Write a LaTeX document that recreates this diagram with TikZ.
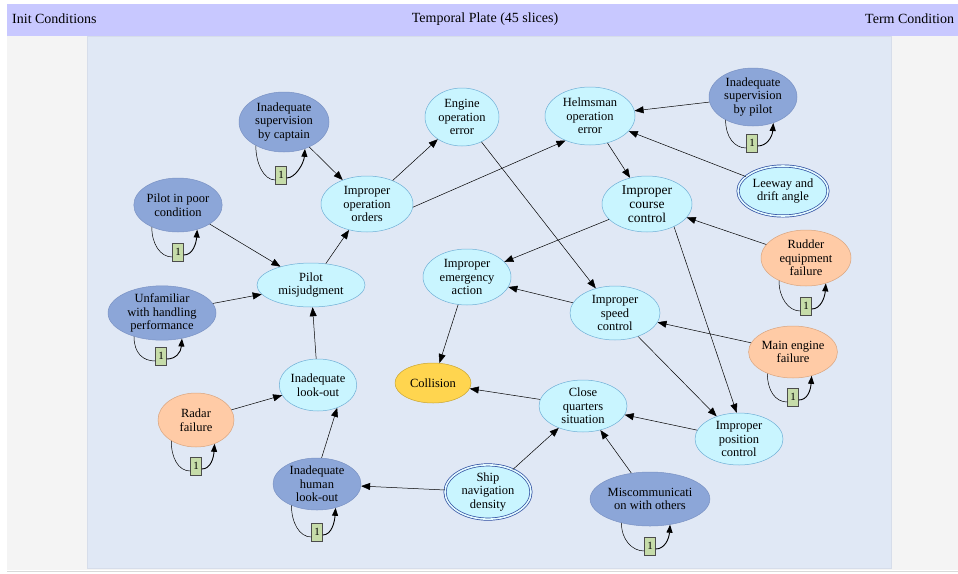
\documentclass[tikz,border=0pt]{standalone}
\usepackage{fontspec}
\setmainfont{Liberation Serif}
\usetikzlibrary{shapes.geometric,arrows.meta,calc}
\definecolor{hdr}{HTML}{C8C8FF}
\definecolor{bggray}{HTML}{F4F4F4}
\definecolor{panel}{HTML}{E0E8F5}
\definecolor{panelb}{HTML}{D6DDEA}
\definecolor{darkn}{HTML}{8CA6D8}
\definecolor{darknb}{HTML}{7A92C4}
\definecolor{cyann}{HTML}{C9F5FF}
\definecolor{cyanb}{HTML}{6FAFD6}
\definecolor{peach}{HTML}{FFCBA6}
\definecolor{peachb}{HTML}{D9A47E}
\definecolor{goldn}{HTML}{FFD54F}
\definecolor{goldb}{HTML}{C9A530}
\definecolor{boxg}{HTML}{C6DCA9}
\definecolor{dblb}{HTML}{2B4BA0}
\newcommand\selfloop[2]{%
  \draw[loopline] (#1.220) .. controls +(0,17) and +(-12,0) .. ($(#2.west)+(0,5)$);
  \draw[loopline, line width=0.9pt, -{Triangle[length=8pt,width=6pt]}] ($(#2.east)+(0,3)$) .. controls +(9,0) and +(-1,14) .. (#1.308);
}
\begin{document}
\begin{tikzpicture}[x=1pt,y=-1pt,
  every node/.style={font=\fontsize{12.5}{13.5}\selectfont, align=center, inner sep=0pt},
  ell/.style={ellipse, draw, line width=0.5pt},
  dk/.style={ell, fill=darkn, draw=darknb},
  cy/.style={ell, fill=cyann, draw=cyanb},
  pe/.style={ell, fill=peach, draw=peachb},
  go/.style={ell, fill=goldn, draw=goldb},
  dbl/.style={ellipse, fill=cyann, draw=dblb, line width=0.7pt, double=cyann!50!white, double distance=1.6pt},
  onebox/.style={rectangle, draw=gray!60!black, fill=boxg, line width=0.5pt, minimum width=11pt, minimum height=18pt, font=\fontsize{11}{12}\selectfont},
  loopline/.style={draw, line width=0.5pt},
  ar/.style={draw, line width=0.5pt, -{Triangle[length=9pt,width=7pt]}},
  hdrtext/.style={font=\fontsize{14}{16}\selectfont}
]
\useasboundingbox (0,0) rectangle (958,573);
\fill[white] (0,0) rectangle (958,573);
\fill[bggray] (7,36) rectangle (958,570);
\draw[gray!30, line width=0.8pt] (7,571) -- (958,571);
\filldraw[fill=panel, draw=panelb, line width=0.5pt] (87,36) rectangle (891,568);
\fill[hdr] (7,4) rectangle (958,36);
\node[hdrtext, anchor=west] (hl) at (12,19) {Init Conditions};
\node[hdrtext] (hc) at (485,19) {Temporal Plate (45 slices)};
\node[hdrtext, anchor=west] (hr) at (865,19) {Term Condition};

% nodes
\node[dk, minimum width=90pt, minimum height=60pt] (cap) at (284,122) {Inadequate\\supervision\\by captain};
\node[dk, minimum width=88pt, minimum height=58pt] (psup) at (753,97) {Inadequate\\supervision\\by pilot};
\node[cy, minimum width=74pt, minimum height=58pt] (eng) at (462,117) {Engine\\operation\\error};
\node[cy, minimum width=90pt, minimum height=58pt] (helm) at (590,116) {Helmsman\\operation\\error};
\node[cy, minimum width=92pt, minimum height=56pt] (ioo) at (367,204) {Improper\\operation\\orders};
\node[dk, minimum width=88pt, minimum height=54pt] (ppc) at (178,205) {Pilot in poor\\condition};
\node[dbl, minimum width=90pt, minimum height=50pt] (lee) at (783,191) {Leeway and\\drift angle};
\node[cy, minimum width=90pt, minimum height=56pt, font=\fontsize{13.5}{14}\selectfont] (icc) at (647,204) {Improper\\course\\control};
\node[pe, minimum width=90pt, minimum height=56pt] (rud) at (806,258) {Rudder\\equipment\\failure};
\node[cy, minimum width=88pt, minimum height=56pt] (iea) at (467,277) {Improper\\emergency\\action};
\node[cy, minimum width=108pt, minimum height=44pt] (pmj) at (311,285) {Pilot\\misjudgment};
\node[dk, minimum width=108pt, minimum height=52pt] (unf) at (162,313) {Unfamiliar\\with handling\\performance};
\node[cy, minimum width=90pt, minimum height=54pt] (isc) at (615,313) {Improper\\speed\\control};
\node[pe, minimum width=88pt, minimum height=52pt] (mef) at (793,352) {Main engine\\failure};
\node[go, minimum width=76pt, minimum height=40pt] (col) at (433,383) {Collision};
\node[cy, minimum width=74pt, minimum height=52pt] (ilo) at (318,385) {Inadequate\\look-out};
\node[cy, minimum width=88pt, minimum height=52pt] (cqs) at (583,406) {Close\\quarters\\situation};
\node[pe, minimum width=76pt, minimum height=54pt] (rad) at (196,420) {Radar\\failure};
\node[cy, minimum width=88pt, minimum height=52pt] (ipc) at (739,439) {Improper\\position\\control};
\node[dk, minimum width=88pt, minimum height=52pt] (ihl) at (317,484) {Inadequate\\human\\look-out};
\node[dbl, minimum width=86pt, minimum height=54pt] (snd) at (488,492) {Ship\\navigation\\density};
\node[dk, minimum width=118pt, minimum height=54pt] (mis) at (650,499) {Miscommunicati\\on with others};

% loop boxes
\node[onebox] (bcap) at (281,175) {1};
\node[onebox] (bpsup) at (752,143) {1};
\node[onebox] (bppc) at (178,252) {1};
\node[onebox] (bunf) at (161,356) {1};
\node[onebox] (brad) at (196,466) {1};
\node[onebox] (bihl) at (317,532) {1};
\node[onebox] (bmis) at (650,546) {1};
\node[onebox] (brud) at (806,306) {1};
\node[onebox] (bmef) at (793,397) {1};

\selfloop{cap}{bcap}
\selfloop{psup}{bpsup}
\selfloop{ppc}{bppc}
\selfloop{unf}{bunf}
\selfloop{rad}{brad}
\selfloop{ihl}{bihl}
\selfloop{mis}{bmis}
\selfloop{rud}{brud}
\selfloop{mef}{bmef}

% edges
\draw[ar] (cap) -- (ioo);
\draw[ar] (pmj) -- (ioo);
\draw[ar] (ioo) -- (eng);
\draw[ar] (ioo.-4) -- (helm.225);
\draw[ar] (psup) -- (helm);
\draw[ar] (lee) -- (helm);
\draw[ar] (helm) -- (icc);
\draw[ar] (eng) -- (isc);
\draw[ar] (icc) -- (iea);
\draw[ar] (icc.-40) -- (ipc.95);
\draw[ar] (rud) -- (icc);
\draw[ar] (ppc) -- (pmj);
\draw[ar] (unf) -- (pmj);
\draw[ar] (isc) -- (iea);
\draw[ar] (mef) -- (isc);
\draw[ar] (isc) -- (ipc);
\draw[ar] (iea) -- (col);
\draw[ar] (cqs) -- (col);
\draw[ar] (ilo) -- (pmj);
\draw[ar] (rad) -- (ilo);
\draw[ar] (ipc) -- (cqs);
\draw[ar] (snd) -- (cqs);
\draw[ar] (snd) -- (ihl);
\draw[ar] (ihl.80) -- (ilo.-50);
\draw[ar] (mis) -- (cqs);
\end{tikzpicture}
\end{document}
